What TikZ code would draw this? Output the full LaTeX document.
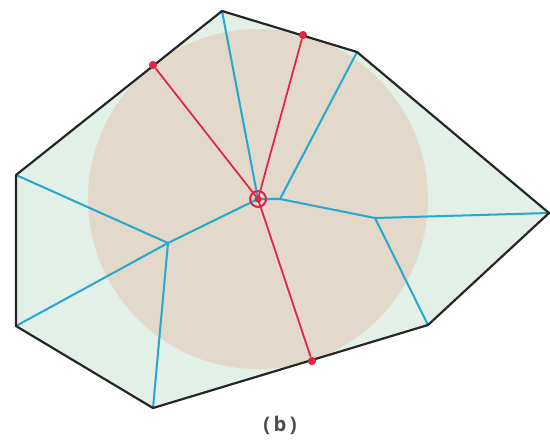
\documentclass[tikz,border=0pt]{standalone}
\usepackage{fontspec}
\setsansfont{Open Sans}
\definecolor{mint}{RGB}{227,240,232}
\definecolor{sand}{RGB}{226,217,202}
\definecolor{skel}{RGB}{38,168,208}
\definecolor{tangred}{RGB}{224,38,70}

\begin{document}
\begin{tikzpicture}[x=0.02cm, y=-0.02cm]
    \tikzset{
      border/.style={draw=black!85, line width=1.25pt, line join=round},
      skeleton/.style={draw=skel, line width=1.15pt},
      spoke/.style={draw=tangred, line width=1pt},
      touch/.style={circle, fill=tangred, inner sep=0pt, minimum size=4.5pt},
      hub/.style={circle, draw=tangred, line width=1pt, inner sep=0pt, minimum size=9pt}
    }
    \useasboundingbox (0,0) rectangle (550,440);

    % Polygon corners
    \coordinate (a) at (222,11);
    \coordinate (b) at (357,52);
    \coordinate (c) at (549,213);
    \coordinate (d) at (428,325);
    \coordinate (e) at (153,408);
    \coordinate (f) at (16,326);
    \coordinate (g) at (16,175);

    % Skeleton joints
    \coordinate (p) at (168,243);
    \coordinate (q) at (280,199);
    \coordinate (r) at (375,218);

    \fill[mint] (a) -- (b) -- (c) -- (d) -- (e) -- (f) -- (g) -- cycle;
    \fill[sand] (258,199) circle [radius=3.4cm];

    % Centre and touching points
    \node[hub] (o) at (258,199) {};
    \node[touch] (t1) at (153,65) {};
    \node[touch] (t2) at (303,35) {};
    \node[touch] (t3) at (312,361) {};

    \draw[skeleton] (o.center) -- (a);
    \draw[skeleton] (o.center) -- (q) -- (b);
    \draw[skeleton] (q) -- (r) -- (c);
    \draw[skeleton] (r) -- (d);
    \draw[skeleton] (o.center) -- (p) -- (g);
    \draw[skeleton] (p) -- (f);
    \draw[skeleton] (p) -- (e);

    \draw[spoke] (o.center) -- (t1);
    \draw[spoke] (o.center) -- (t2);
    \draw[spoke] (o.center) -- (t3);

    \draw[border] (a) -- (b) -- (c) -- (d) -- (e) -- (f) -- (g) -- cycle;
    \node[touch] at (t1) {};
    \node[touch] at (t2) {};
    \node[touch] at (t3) {};
    \node[hub] at (o) {};
    \fill[tangred] (o) circle (2pt);

    \node[font=\sffamily\bfseries\fontsize{11.5}{13}\selectfont, text=black!70] (cap) at (280,425) {(\,b\,)};
\end{tikzpicture}
\end{document}
